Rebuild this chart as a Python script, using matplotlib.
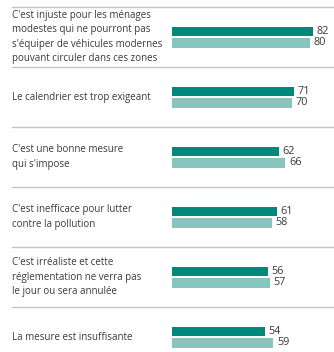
import matplotlib
matplotlib.use('Agg')
import matplotlib.pyplot as plt

plt.rcParams['font.family'] = ['Open Sans', 'DejaVu Sans']

labels = [
    "C'est injuste pour les ménages\nmodestes qui ne pourront pas\ns'équiper de véhicules modernes\npouvant circuler dans ces zones",
    "Le calendrier est trop exigeant",
    "C'est une bonne mesure\nqui s'impose",
    "C'est inefficace pour lutter\ncontre la pollution",
    "C'est irréaliste et cette\nréglementation ne verra pas\nle jour ou sera annulée",
    "La mesure est insuffisante",
]
serie_1 = [82, 71, 62, 61, 56, 54]
serie_2 = [80, 70, 66, 58, 57, 59]

dark = '#00897b'
light = '#87c6bf'
text_col = '#3a3a3a'

fig = plt.figure(figsize=(3.34, 3.52), dpi=100)
ax = fig.add_axes([0, 0, 1, 1])
ax.set_xlim(-100, 94.2)
ax.set_ylim(5.25, -0.617)
ax.axis('off')

pos = range(len(labels))
off = 0.095
h = 0.16
ax.barh([p - off for p in pos], serie_1, height=h, color=dark)
ax.barh([p + off for p in pos], serie_2, height=h, color=light)

for p, lab, a, b in zip(pos, labels, serie_1, serie_2):
    ax.text(-93, p, lab, ha='left', va='center', fontsize=7,
            color=text_col, linespacing=1.42)
    ax.text(a + 2, p - off, str(a), ha='left', va='center', fontsize=7.8,
            color=text_col)
    ax.text(b + 2, p + off, str(b), ha='left', va='center', fontsize=7.8,
            color=text_col)

# separators between the groups
for p in range(len(labels)):
    ax.plot([-93, 94.2], [p - 0.5, p - 0.5], color='#c4c4c4', lw=1.0)

fig.savefig('out.png', dpi=100)
